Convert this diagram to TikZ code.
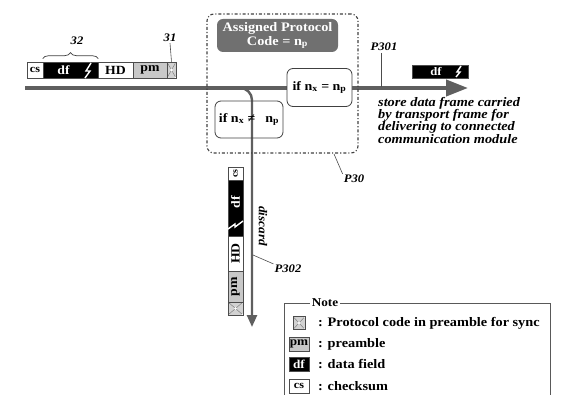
\documentclass[tikz,border=0pt]{standalone}
\usepackage{fontspec}
\setmainfont[FakeStretch=1.1]{Liberation Serif}
\usetikzlibrary{arrows.meta,decorations.pathreplacing}
\definecolor{arrowgray}{HTML}{5F5F5F}
\definecolor{pmgray}{HTML}{C8C8C8}
\newcommand{\pcpic}{\draw[black!55,line width=0.4pt] (path picture bounding box.north west) -- (path picture bounding box.south east) (path picture bounding box.north east) -- (path picture bounding box.south west);
 \fill[white] (path picture bounding box.center) circle (1.3pt);
 \fill[white] (path picture bounding box.north west) circle (1.6pt);
 \fill[white] (path picture bounding box.south east) circle (1.6pt);
 \fill[white] (path picture bounding box.north east) circle (1.6pt);
 \fill[white] (path picture bounding box.south west) circle (1.6pt);}
\begin{document}
\begin{tikzpicture}[x=1pt,y=-1pt,
  seg/.style={draw=black!70,line width=0.6pt,inner sep=0pt,minimum height=16pt,font=\bfseries\fontsize{12.5}{12.5}\selectfont},
  vseg/.style={seg,rotate=90,minimum height=15pt},
  blk/.style={fill=black,text=white},
  pmf/.style={fill=pmgray},
  pcf/.style={fill=gray!35,path picture={\pcpic}},
  bolt/.style={white,line width=1.4pt,line join=miter},
  lab/.style={font=\bfseries\itshape\fontsize{11.5}{11.5}\selectfont,inner sep=1pt},
  cond/.style={draw=black!75,line width=0.8pt,rounded corners=6pt,font=\bfseries\fontsize{12.7}{13}\selectfont,inner sep=0pt},
  leader/.style={black!70,line width=0.6pt},
  notetxt/.style={anchor=west,font=\bfseries\fontsize{13}{13}\selectfont,inner sep=0pt}
]
\useasboundingbox (0,0) rectangle (583,395);

% main horizontal arrow
\coordinate (hs) at (25,88);
\coordinate (he) at (468,88);
\draw[arrowgray,line width=4pt,-{Triangle[length=22pt,width=16pt]}] (hs) -- (he);

% discard branch
\coordinate (bs) at (234,88);
\coordinate (be) at (252,327);
\draw[arrowgray,line width=2.4pt,rounded corners=12pt,-{Triangle[length=12pt,width=10pt]}] (bs) -| (be);

% protocol box P30
\node[draw=black!75,line width=1.1pt,dash dot,rounded corners=7pt,minimum width=151pt,minimum height=139pt,inner sep=0pt] (p30) at (282.5,83.5) {};
\node[fill=gray!75!black!90,text=white,rounded corners=6pt,minimum width=121pt,minimum height=33pt,inner sep=0pt,align=center,font=\bfseries\fontsize{13}{14}\selectfont] (apc) at (277.5,35.5) {Assigned Protocol\\Code = n\textsubscript{p}};
\node[cond,fill=white,minimum width=65pt,minimum height=38pt] (eq) at (319.5,87.5) {if n\textsubscript{x} = n\textsubscript{p}};
\node[cond,minimum width=68pt,minimum height=37pt] (neq) at (249,119.5) {if n\textsubscript{x} ≠\hspace{10pt}n\textsubscript{p}};

% top frame
\node[seg,minimum width=16pt,font=\bfseries\fontsize{11}{11}\selectfont] (cs1) at (35,70) {cs};
\node[seg,blk,minimum width=55pt] (df1) at (70.5,70) {\hspace*{-14pt}df};
\draw[bolt] (91,63) -- (86,71) -- (90,71) -- (85,78);
\node[seg,minimum width=35pt] (hd1) at (115.5,70) {HD};
\node[seg,pmf,minimum width=34pt] (pm1) at (150,70) {pm};
\node[seg,pcf,minimum width=9pt] (pc1) at (171.5,70) {};
\draw[decorate,decoration={brace,amplitude=6pt},black!75,line width=0.7pt] (df1.north west) ++(0,-3) coordinate (b1) (df1.north east) ++(0,-3) coordinate (b2) (b1) -- (b2);
\node[lab] (l32) at (77,41) {32};
\node[lab] (l31) at (170,38) {31};
\draw[leader] (l31.south) -- (pc1.north);

% right df
\node[seg,blk,minimum width=56pt,minimum height=13pt,font=\bfseries\fontsize{11.5}{11.5}\selectfont] (df2) at (440,71.5) {\hspace*{-8pt}df};
\draw[bolt] (461,66) -- (457,72) -- (460,72) -- (456,77);

% vertical frame
\node[vseg,minimum width=13pt,font=\bfseries\fontsize{9}{9}\selectfont] (cs2) at (235.5,173.5) {cs};
\node[vseg,blk,minimum width=56pt] (df2v) at (235.5,208) {\hspace*{12pt}df};
\draw[bolt] (228,229) -- (235,224) -- (235,227) -- (243,221);
\node[vseg,minimum width=35pt] (hd2) at (235.5,253.5) {HD};
\node[vseg,pmf,minimum width=31pt] (pm2) at (235.5,286.5) {pm};
\node[vseg,pcf,minimum width=13pt] (pc2) at (235.5,308.5) {};

% labels
\node[lab,rotate=-90,font=\bfseries\itshape\fontsize{12}{12}\selectfont] (disc) at (263,226) {discard};
\node[lab] (p301) at (384,47) {P301};
\coordinate (p301e) at (381,87);
\draw[leader] (381,53) -- (p301e);
\node[lab] (lp30) at (354,179) {P30};
\draw[leader] (334,154) -- (lp30.north west);
\node[lab] (p302) at (288,269) {P302};
\draw[leader] (253,255) -- (p302.north west);

\node[anchor=north west,align=left,inner sep=0pt,font=\bfseries\itshape\fontsize{13}{12.3}\selectfont] (desc) at (378,97) {store data frame carried\\by transport frame for\\delivering to connected\\communication module};

% note
\node[draw=black!65,line width=0.8pt,minimum width=266pt,minimum height=92pt,inner sep=0pt] (note) at (417,349) {};
\node[fill=white,inner sep=2pt,font=\bfseries\fontsize{12}{12}\selectfont] (notet) at (325,303) {Note};
\node[seg,pcf,minimum width=12pt,minimum height=13pt] (i1) at (299,323) {};
\node[seg,pmf,minimum width=20pt,minimum height=14pt,font=\bfseries\fontsize{12}{12}\selectfont] (i2) at (299,344) {pm};
\node[seg,blk,minimum width=20pt,minimum height=14pt,font=\bfseries\fontsize{12}{12}\selectfont] (i3) at (299,364) {df};
\node[seg,minimum width=20pt,minimum height=14pt,font=\bfseries\fontsize{11}{11}\selectfont] (i4) at (299,386) {cs};
\node[notetxt] (t1) at (318,323) {: Protocol code in preamble for sync};
\node[notetxt] (t2) at (318,344) {: preamble};
\node[notetxt] (t3) at (318,364) {: data field};
\node[notetxt] (t4) at (318,386) {: checksum};
\end{tikzpicture}
\end{document}
